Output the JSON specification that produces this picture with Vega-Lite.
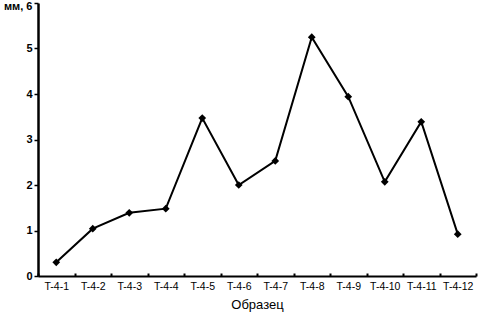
{
  "$schema": "https://vega.github.io/schema/vega-lite/v6.json",
  "width": 438,
  "height": 273,
  "autosize": {"type": "none"},
  "padding": {"left": 38, "top": 3, "right": 2, "bottom": 39},
  "background": "white",
  "config": {
    "view": {"stroke": null},
    "font": "Liberation Sans",
    "axis": {"grid": false, "domainColor": "black", "tickColor": "black", "labelColor": "black", "titleColor": "black", "labelFont": "Liberation Sans", "titleFont": "Liberation Sans"}
  },
  "data": {
    "values": [
      {"sample": "T-4-1", "value": 0.30},
      {"sample": "T-4-2", "value": 1.04},
      {"sample": "T-4-3", "value": 1.39},
      {"sample": "T-4-4", "value": 1.48},
      {"sample": "T-4-5", "value": 3.47},
      {"sample": "T-4-6", "value": 2.0},
      {"sample": "T-4-7", "value": 2.53},
      {"sample": "T-4-8", "value": 5.25},
      {"sample": "T-4-9", "value": 3.94},
      {"sample": "T-4-10", "value": 2.07},
      {"sample": "T-4-11", "value": 3.39},
      {"sample": "T-4-12", "value": 0.92}
    ]
  },
  "encoding": {
    "x": {
      "field": "sample", "type": "nominal", "sort": null,
      "scale": {"paddingInner": 0, "paddingOuter": 0},
      "axis": {"title": "Образец", "labelAngle": 0, "labelFontSize": 10.5, "labelPadding": 8, "titleFontSize": 13, "titleFontWeight": "normal", "titlePadding": 7, "tickBand": "extent", "tickSize": -3, "domainWidth": 2, "tickWidth": 2}
    },
    "y": {
      "field": "value", "type": "quantitative",
      "scale": {"domain": [0, 6], "nice": false},
      "axis": {"title": null, "values": [0, 1, 2, 3, 4, 5, 6], "labelExpr": "datum.value == 6 ? 'мм, 6' : datum.label", "labelOffset": {"condition": {"test": "datum.value == 6", "value": 3}, "value": 0}, "labelFontSize": 11, "labelFontWeight": "bold", "tickSize": 4, "labelPadding": 2, "domainWidth": 2.5, "tickWidth": 1.5}
    }
  },
  "layer": [
    {"mark": {"type": "line", "color": "black", "strokeWidth": 2}},
    {"mark": {"type": "point", "shape": "diamond", "filled": true, "color": "black", "size": 60, "opacity": 1}}
  ]
}
